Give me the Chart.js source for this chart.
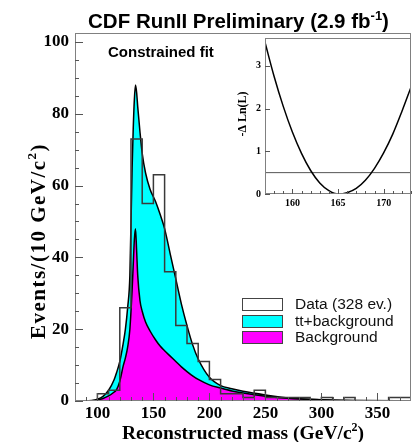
<!DOCTYPE html>
<html lang="en">
<head>
<meta charset="UTF-8">
<title>CDF RunII top mass</title>
<script src="https://cdn.jsdelivr.net/npm/chart.js"></script>
<style>
  body { margin: 0; background: #fff; }
  #wrap { position: relative; width: 416px; height: 442px; }
  #main { position: absolute; left: 0; top: 0; }
  #inset { position: absolute; left: 225px; top: 28px; }
</style>
</head>
<body>
<div id="wrap">
  <canvas id="main" width="416" height="442"></canvas>
  <canvas id="inset" width="191" height="185"></canvas>
</div>
<script>
// data histogram: lower bin edges (GeV/c2) and events per bin
const binEdges = [80, 90, 100, 110, 120, 130, 140, 150, 160, 170, 180, 190, 200, 210, 220,
                  230, 240, 250, 260, 270, 280, 290, 300, 310, 320, 330, 340, 350, 360, 370];
const dataCounts = [0, 0, 2, 3, 26, 73, 55, 63, 36, 21, 16, 11, 6, 2, 2,
                    1, 3, 1, 1, 1, 1, 0, 1, 0, 1, 0, 0, 0, 1, 1];
const binUpper = 380;

// fitted templates
const fitMass = [85, 95, 100, 105, 110, 115, 117, 120, 123, 125, 127, 129, 131, 132, 133, 134, 135, 136, 138, 140,
                 143, 147, 152, 156, 160, 165, 170, 175, 180, 185, 190, 200, 210, 220, 230, 250, 275, 300, 340, 380];
const fitTotal = [0, 0.15, 0.5, 1.3, 3.0, 6.0, 7.8, 11, 16, 20, 26, 35, 65, 76, 84, 88, 86, 82, 75, 69,
                  63.5, 59, 55.5, 52, 48, 41, 34, 27, 21, 15.7, 11.7, 6.6, 4.3, 3.4, 2.7, 1.7, 0.75, 0.38, 0.12, 0.06];
const fitBkg = [0, 0.1, 0.3, 0.7, 1.4, 2.5, 3.1, 5.5, 9.7, 12, 15, 20, 31, 38, 45, 48, 42, 35, 28, 25,
                22, 19.5, 17, 15.3, 14, 12.5, 11, 9.5, 8.2, 7, 6, 4.5, 3.6, 2.8, 2.2, 1.3, 0.6, 0.3, 0.1, 0.05];

const massTicks = [100, 150, 200, 250, 300, 350];
const eventTicks = [0, 20, 40, 60, 80, 100];

// likelihood scan in the inset
const scanMass = [157, 158, 159, 160, 161, 162, 163, 164, 165, 166, 167, 168, 169, 170, 171, 172, 173];
const scanLnL = [3.55, 2.75, 2.05, 1.45, 0.95, 0.55, 0.26, 0.08, 0.0, 0.03, 0.13, 0.32, 0.6, 0.96, 1.4, 1.93, 2.5];
const scanTicks = [160, 165, 170];
const scanLnLTicks = [0, 1, 2, 3];
const cutLevel = 0.5;

const serif = '"Liberation Serif", "Times New Roman", serif';
const sans = '"Liberation Sans", Arial, sans-serif';

function pts(xs, ys) { return xs.map((x, i) => ({ x: x, y: ys[i] })); }

// ticks drawn inside the frame, like ROOT does
function inwardTicks(chart, axis, values, len) {
  const ctx = chart.ctx, a = chart.chartArea, s = chart.scales[axis];
  ctx.beginPath();
  values.forEach(v => {
    const p = Math.round(s.getPixelForValue(v)) + 0.5;
    if (axis === 'x') { ctx.moveTo(p, a.bottom); ctx.lineTo(p, a.bottom - len); }
    else { ctx.moveTo(a.left, p); ctx.lineTo(a.left + len, p); }
  });
  ctx.stroke();
}

function range(from, to, step) {
  const out = [];
  for (let v = from; v <= to + 1e-9; v += step) out.push(v);
  return out;
}

// centred text made of pieces, some raised: parts = [[text, size, raise], ...]
function drawParts(ctx, parts, x, y, family, spacing) {
  ctx.letterSpacing = spacing || '0px';
  let w = 0;
  parts.forEach(p => { ctx.font = 'bold ' + p[1] + 'px ' + family; w += ctx.measureText(p[0]).width; });
  let cx = x - w / 2;
  ctx.textAlign = 'left';
  ctx.textBaseline = 'alphabetic';
  parts.forEach(p => {
    ctx.font = 'bold ' + p[1] + 'px ' + family;
    ctx.fillText(p[0], cx, y - p[2]);
    cx += ctx.measureText(p[0]).width;
  });
  ctx.letterSpacing = '0px';
}

const mainDeco = {
  id: 'mainDeco',
  afterDatasetsDraw(chart) {
    const ctx = chart.ctx, a = chart.chartArea;
    ctx.save();
    ctx.strokeStyle = '#808080';
    ctx.lineWidth = 1;
    ctx.strokeRect(a.left + 0.5, a.top + 0.5, a.right - a.left - 1, a.bottom - a.top - 1);
    ctx.strokeStyle = '#555';
    inwardTicks(chart, 'x', massTicks, 8);
    inwardTicks(chart, 'x', range(90, 370, 10).filter(v => v % 50), 4);
    inwardTicks(chart, 'y', eventTicks, 8);
    inwardTicks(chart, 'y', range(5, 100, 5).filter(v => v % 20), 4);
    ctx.restore();
  },
  afterDraw(chart) {
    const ctx = chart.ctx;
    ctx.save();
    ctx.fillStyle = '#000';
    drawParts(ctx, [['CDF RunII Preliminary (2.9 fb', 20.5, 0], ['-1', 13, 8], [')', 20.5, 0]], 238.5, 27.5, sans);

    ctx.font = 'bold 15px ' + sans;
    ctx.textAlign = 'left';
    ctx.fillText('Constrained fit', 108, 57);

    // axis titles
    drawParts(ctx, [['Reconstructed mass (GeV/c', 19.5, 0], ['2', 12, 8], [')', 19.5, 0]], 243, 439, serif);
    ctx.save();
    ctx.translate(45, 241);
    ctx.rotate(-Math.PI / 2);
    drawParts(ctx, [['Events/(10 GeV/c', 21, 0], ['2', 13, 9], [')', 21, 0]], 0, 0, serif, '1.5px');
    ctx.restore();

    // legend
    const rows = [
      { label: 'Data (328 ev.)', fill: '#ffffff', y: 298 },
      { label: 'tt+background', fill: '#00ffff', y: 315 },
      { label: 'Background', fill: '#ff00ff', y: 331 }
    ];
    ctx.font = '15.5px ' + sans;
    ctx.textBaseline = 'middle';
    rows.forEach(r => {
      ctx.fillStyle = r.fill;
      ctx.fillRect(242, r.y, 41, 13);
      ctx.strokeStyle = '#444';
      ctx.lineWidth = 1;
      ctx.strokeRect(242.5, r.y + 0.5, 40, 12);
      ctx.fillStyle = '#111';
      ctx.fillText(r.label, 295, r.y + 7);
    });
    ctx.restore();
  }
};

const histPoints = pts(binEdges, dataCounts).concat([{ x: binUpper, y: dataCounts[dataCounts.length - 1] }]);

new Chart(document.getElementById('main'), {
  type: 'line',
  data: {
    datasets: [
      {
        label: 'Data (328 ev.)',
        data: histPoints,
        stepped: 'before',
        borderColor: '#3a3a3a',
        borderWidth: 1.5,
        pointRadius: 0,
        fill: false,
        order: 0
      },
      {
        label: 'Background',
        data: pts(fitMass, fitBkg),
        cubicInterpolationMode: 'monotone',
        borderColor: '#000',
        borderWidth: 1.5,
        backgroundColor: '#ff00ff',
        pointRadius: 0,
        fill: 'origin',
        order: 1
      },
      {
        label: 'tt+background',
        data: pts(fitMass, fitTotal),
        cubicInterpolationMode: 'monotone',
        borderColor: '#000',
        borderWidth: 1.5,
        backgroundColor: '#00ffff',
        pointRadius: 0,
        fill: 'origin',
        order: 2
      }
    ]
  },
  options: {
    responsive: false,
    animation: false,
    layout: { padding: { top: 33, right: 5, left: 0, bottom: 0 } },
    plugins: { legend: { display: false }, tooltip: { enabled: false } },
    scales: {
      x: {
        type: 'linear',
        min: 80,
        max: 380,
        afterBuildTicks: s => { s.ticks = massTicks.map(v => ({ value: v })); },
        afterFit: s => { s.height = 41; },
        grid: { display: false, drawTicks: false },
        border: { display: false },
        ticks: { color: '#000', padding: 2, maxRotation: 0, font: { family: serif, weight: 'bold', size: 17 } }
      },
      y: {
        min: 0,
        max: 102.5,
        afterBuildTicks: s => { s.ticks = eventTicks.map(v => ({ value: v })); },
        afterFit: s => { s.width = 75; },
        grid: { display: false, drawTicks: false },
        border: { display: false },
        ticks: { color: '#000', padding: 6, font: { family: serif, weight: 'bold', size: 17 } }
      }
    }
  },
  plugins: [mainDeco]
});

const insetDeco = {
  id: 'insetDeco',
  beforeDatasetsDraw(chart) {
    const ctx = chart.ctx, a = chart.chartArea;
    ctx.save();
    ctx.fillStyle = '#fff';
    ctx.fillRect(a.left, a.top, a.right - a.left, a.bottom - a.top);
    ctx.restore();
  },
  afterDatasetsDraw(chart) {
    const ctx = chart.ctx, a = chart.chartArea;
    ctx.save();
    ctx.strokeStyle = '#808080';
    ctx.lineWidth = 1;
    ctx.strokeRect(a.left + 0.5, a.top + 0.5, a.right - a.left - 1, a.bottom - a.top - 1);
    ctx.strokeStyle = '#555';
    inwardTicks(chart, 'x', scanTicks, 5);
    inwardTicks(chart, 'x', range(158, 173, 1).filter(v => v % 5), 3);
    inwardTicks(chart, 'y', scanLnLTicks, 5);
    ctx.fillStyle = '#000';
    ctx.translate(21, 86);
    ctx.rotate(-Math.PI / 2);
    ctx.font = 'bold 12px ' + serif;
    ctx.textAlign = 'center';
    ctx.textBaseline = 'alphabetic';
    ctx.fillText('-\u0394 Ln(L)', 0, 0);
    ctx.restore();
  }
};

new Chart(document.getElementById('inset'), {
  type: 'line',
  data: {
    datasets: [
      {
        label: '-\u0394 Ln(L)',
        data: pts(scanMass, scanLnL),
        cubicInterpolationMode: 'monotone',
        borderColor: '#000',
        borderWidth: 1.5,
        pointRadius: 0,
        fill: false
      },
      {
        label: 'cut',
        data: [{ x: scanMass[0], y: cutLevel }, { x: scanMass[scanMass.length - 1], y: cutLevel }],
        borderColor: '#555',
        borderWidth: 1,
        pointRadius: 0,
        fill: false
      }
    ]
  },
  options: {
    responsive: false,
    animation: false,
    layout: { padding: { top: 5, right: 5, left: 0, bottom: 0 } },
    plugins: { legend: { display: false }, tooltip: { enabled: false } },
    scales: {
      x: {
        type: 'linear',
        min: 157,
        max: 173,
        afterBuildTicks: s => { s.ticks = scanTicks.map(v => ({ value: v })); },
        afterFit: s => { s.height = 19; },
        grid: { display: false, drawTicks: false },
        border: { display: false },
        ticks: { color: '#000', padding: 3, maxRotation: 0, font: { family: serif, weight: 'bold', size: 10 } }
      },
      y: {
        min: 0,
        max: 3.65,
        afterBuildTicks: s => { s.ticks = scanLnLTicks.map(v => ({ value: v })); },
        afterFit: s => { s.width = 40; },
        grid: { display: false, drawTicks: false },
        border: { display: false },
        ticks: { color: '#000', padding: 4, font: { family: serif, weight: 'bold', size: 10 } }
      }
    }
  },
  plugins: [insetDeco]
});
</script>
</body>
</html>
